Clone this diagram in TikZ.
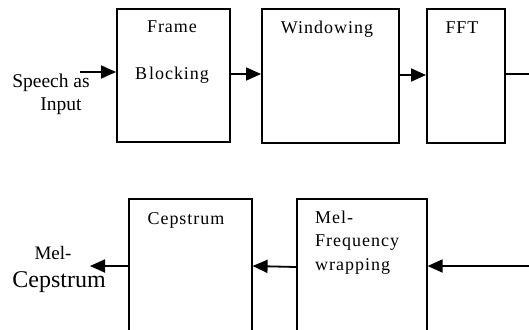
\documentclass[tikz,border=0pt]{standalone}
\usepackage{fontspec}
\setmainfont{Liberation Serif}
\newfontfamily\spaced[LetterSpace=5.5]{Liberation Serif}
\usetikzlibrary{arrows.meta}
\begin{document}
\begin{tikzpicture}[x=1pt,y=-1pt,
  block/.style={draw,line width=1.6pt,rectangle,inner sep=0pt,anchor=north west},
  btext/.style={inner sep=0pt,anchor=base,font=\spaced\fontsize{18}{18}\selectfont},
  ltext/.style={inner sep=0pt,anchor=base,font=\fontsize{19.5}{20}\selectfont},
  arr/.style={line width=1.8pt,-{Triangle[length=15pt,width=13pt]}}]
\useasboundingbox (0,0) rectangle (529,329);
\clip (0,0) rectangle (529,329);
% processing blocks
\node[block,minimum width=113pt,minimum height=133pt] (frame) at (116,8) {};
\node[block,minimum width=137pt,minimum height=134pt] (win) at (261,8) {};
\node[block,minimum width=78pt,minimum height=134pt] (fft) at (426,8) {};
\node[block,minimum width=123pt,minimum height=150pt] (cep) at (128,198) {};
\node[block,minimum width=130pt,minimum height=150pt] (mel) at (296,198) {};
% block texts
\node[btext] (t1) at (172,33) {Frame};
\node[btext] (t2) at (172,79) {B\kern2pt locking};
\node[btext] (t3) at (327,34) {Windowing};
\node[btext] (t4) at (462,34) {FFT};
\node[btext] (t5) at (186,224) {Cepstrum};
\node[btext,anchor=base west] (t6) at (315,223) {Mel-};
\node[btext,anchor=base west] (t7) at (315,246) {Frequency};
\node[btext,anchor=base west] (t8) at (315,270) {wrapping};
% input and output labels
\node[ltext] (in1) at (51,87) {Speech as};
\node[ltext] (in2) at (61,110) {Input};
\node[ltext,font=\fontsize{19}{20}\selectfont] (out1) at (53,259) {Mel-};
\node[ltext,font=\fontsize{24}{24}\selectfont] (out2) at (59,287) {Cepstrum};
% connectors
\coordinate (src) at (80,72);
\coordinate (dst) at (90,266);
\draw[arr] (src) -- (frame.west |- src);
\draw[arr] (frame.east |- 0,74) -- (win.west |- 0,74);
\draw[arr] (win.east |- 0,75) -- (fft.west |- 0,75);
\draw[arr] (fft.east |- 0,74) -- (536,74) -- (536,266) -- (mel.east |- 0,266);
\draw[arr] (mel.west |- 0,267) -- (cep.east |- 0,266);
\draw[arr] (cep.west |- dst) -- (dst);
\end{tikzpicture}
\end{document}
